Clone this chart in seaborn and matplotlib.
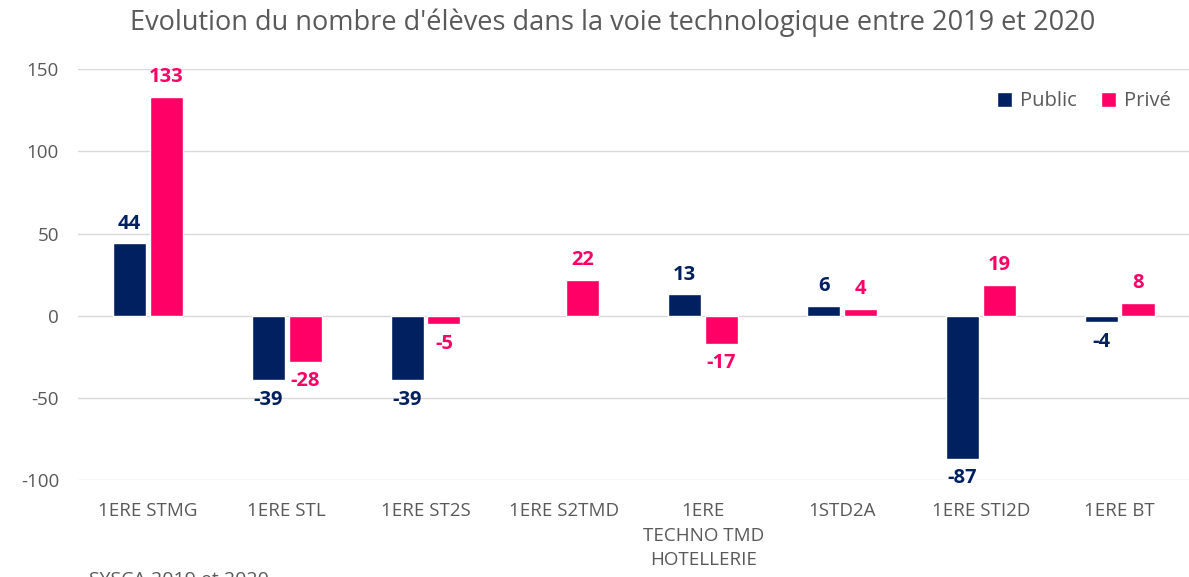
import numpy as np
import pandas as pd
import matplotlib.pyplot as plt
import seaborn as sns

categories = ["1ERE STMG", "1ERE STL", "1ERE ST2S", "1ERE S2TMD",
              "1ERE\nTECHNO TMD\nHOTELLERIE", "1STD2A", "1ERE STI2D", "1ERE BT"]
# no Public bar for 1ERE S2TMD (kept at 0, no label)
public = [44, -39, -39, 0, 13, 6, -87, -4]
public_labels = ["44", "-39", "-39", "", "13", "6", "-87", "-4"]
prive = [133, -28, -5, 22, -17, 4, 19, 8]
prive_labels = [str(v) for v in prive]

navy = "#002060"
pink = "#FF0066"
grey = "#595959"

df = pd.DataFrame({
    "Catégorie": categories * 2,
    "Valeur": public + prive,
    "Secteur": ["Public"] * len(categories) + ["Privé"] * len(categories),
})

sns.set_style("white")
plt.rcParams['font.family'] = ['Open Sans', 'DejaVu Sans']
plt.rcParams['axes.unicode_minus'] = False

fig = plt.figure(figsize=(11.89, 5.77), dpi=100)
ax = fig.add_axes([0.066, 0.168, 0.934, 0.712])

sns.barplot(data=df, x="Catégorie", y="Valeur", hue="Secteur",
            palette={"Public": navy, "Privé": pink}, width=0.53, gap=0.1,
            ax=ax, saturation=1)

# hide the empty Public bar
ax.containers[0][3].set_visible(False)

ax.set_ylim(-100, 150)
ax.set_yticks([-100, -50, 0, 50, 100, 150])
ax.yaxis.grid(True, color="#D9D9D9", linewidth=1)
ax.set_axisbelow(True)
for s in ax.spines.values():
    s.set_visible(False)
ax.tick_params(axis="both", length=0, colors=grey, labelsize=13.5)
ax.tick_params(axis="x", pad=16)
ax.tick_params(axis="y", pad=14)
for t in ax.get_xticklabels():
    t.set_linespacing(1.45)
ax.set_xlabel("")
ax.set_ylabel("")

for cont, labels, col in zip(ax.containers, [public_labels, prive_labels], [navy, pink]):
    ax.bar_label(cont, labels=labels, padding=7, color=col,
                 fontsize=14.5, fontweight="bold")

fig.suptitle("Evolution du nombre d'élèves dans la voie technologique entre 2019 et 2020",
             x=0.515, y=0.985, fontsize=19.5, color=grey)

ax.legend(loc="upper right", bbox_to_anchor=(1.0, 0.99), frameon=False,
          ncol=2, fontsize=14.5, handlelength=0.75, handleheight=0.75,
          columnspacing=1.2, handletextpad=0.4, labelcolor=grey)

fig.text(0.075, -0.006, "SYSCA 2019 et 2020", fontsize=14, color=grey, va="center")

fig.savefig("out.png", dpi=100)
